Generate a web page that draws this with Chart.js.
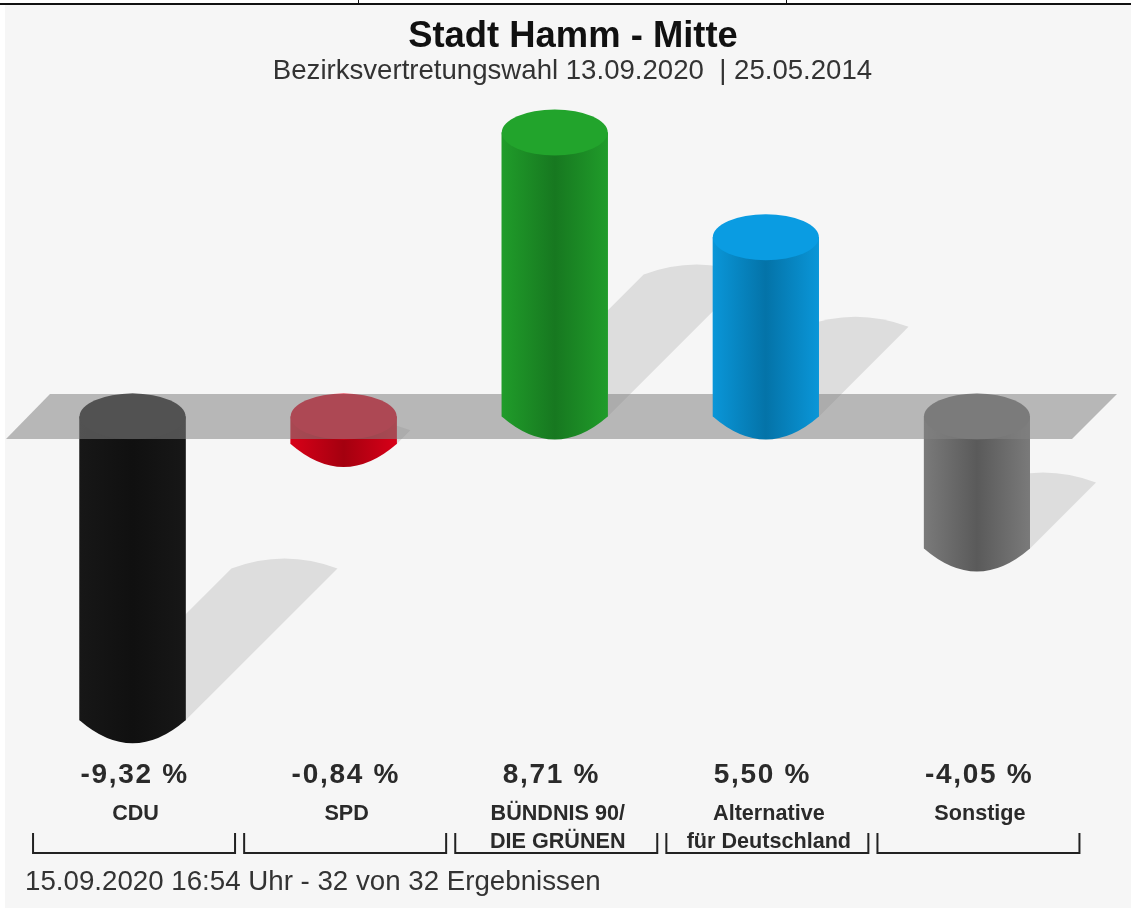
<!DOCTYPE html>
<html>
<head>
<meta charset="utf-8">
<title>Stadt Hamm - Mitte</title>
<script src="https://cdn.jsdelivr.net/npm/chart.js@4"></script>
<style>
    html, body { margin: 0; padding: 0; background: #fff; overflow: hidden; }
    #wrap { position: relative; width: 1131px; height: 908px; }
    /* the original is a scaled-up image, slightly soft all over */
    #myChart { display: block; filter: blur(0.6px); }
    .rule { position: absolute; background: #111; }
</style>
</head>
<body>
<div id="wrap">
    <canvas id="myChart" width="1131" height="908"></canvas>
    <div class="rule" style="left:0;top:3px;width:1131px;height:2px"></div>
    <div class="rule" style="left:358px;top:0;width:1px;height:4px"></div>
    <div class="rule" style="left:786px;top:0;width:1px;height:4px"></div>
</div>
<script>
/* Data */

const parties = ['CDU', 'SPD', ['BÜNDNIS 90/', 'DIE GRÜNEN'], ['Alternative', 'für Deutschland'], 'Sonstige'];
const changes = [-9.32, -0.84, 8.71, 5.50, -4.05];
const titleText = 'Stadt Hamm - Mitte';
const subtitleText = 'Bezirksvertretungswahl 13.09.2020  | 25.05.2014';
const footerText = '15.09.2020 16:54 Uhr - 32 von 32 Ergebnissen';

/* Colours: top, side edge, side middle */

const topColors = ['#171717', '#e0001c', '#22a42c', '#0a9ce2', '#727272'];
const edgeColors = ['#171717', '#d80018', '#209c2a', '#0a96d8', '#7a7a7a'];
const midColors = ['#101010', '#a4000f', '#177820', '#0473a8', '#5a5a5a'];

const FONT = '"Liberation Sans", Arial, sans-serif';
const ELLIPSE_RY = 23;

function cylinder(ctx, bar, i, zero) {
    const rx = bar.width / 2;
    const left = bar.x - rx;
    const right = bar.x + rx;
    const upper = Math.min(bar.y, zero);
    const lower = Math.max(bar.y, zero);

    const side = ctx.createLinearGradient(left, 0, right, 0);
    side.addColorStop(0, edgeColors[i]);
    side.addColorStop(0.5, midColors[i]);
    side.addColorStop(1, edgeColors[i]);

    ctx.fillStyle = side;
    ctx.beginPath();
    ctx.moveTo(left, upper);
    ctx.lineTo(right, upper);
    ctx.lineTo(right, lower);
    ctx.quadraticCurveTo(bar.x + rx * 0.5, lower + ELLIPSE_RY, bar.x, lower + ELLIPSE_RY);
    ctx.quadraticCurveTo(bar.x - rx * 0.5, lower + ELLIPSE_RY, left, lower);
    ctx.closePath();
    ctx.fill();

    ctx.fillStyle = topColors[i];
    ctx.beginPath();
    ctx.ellipse(bar.x, upper, rx, ELLIPSE_RY, 0, 0, Math.PI * 2);
    ctx.fill();
}

const cylinders = {
    id: 'cylinders',
    beforeDraw(chart) {
        const ctx = chart.ctx;
        ctx.save();
        ctx.fillStyle = '#f6f6f6';
        ctx.fillRect(5, 5, chart.width - 5, chart.height - 5);
        ctx.restore();
    },
    beforeDatasetsDraw(chart) {
        // shadows fall up and to the right, half as long as the bar
        const ctx = chart.ctx;
        const zero = chart.scales.y.getPixelForValue(0);
        ctx.save();
        ctx.fillStyle = '#dddddd';
        chart.getDatasetMeta(0).data.forEach((bar) => {
            const rx = bar.width / 2;
            const lower = Math.max(bar.y, zero);
            const s = Math.abs(bar.y - zero) / 2;
            ctx.beginPath();
            ctx.moveTo(bar.x - rx, lower);
            ctx.lineTo(bar.x - rx + s, lower - s);
            ctx.quadraticCurveTo(bar.x + s - rx * 0.5, lower - s - 10, bar.x + s, lower - s - 10);
            ctx.quadraticCurveTo(bar.x + s + rx * 0.5, lower - s - 10, bar.x + rx + s, lower - s);
            ctx.lineTo(bar.x + rx, lower);
            ctx.closePath();
            ctx.fill();
        });
        ctx.restore();
    },
    afterDatasetsDraw(chart) {
        const ctx = chart.ctx;
        const y = chart.scales.y;
        const zero = y.getPixelForValue(0);
        const bars = chart.getDatasetMeta(0).data;
        ctx.save();

        bars.forEach((bar, i) => { if (changes[i] < 0) cylinder(ctx, bar, i, zero); });

        // the grey floor at zero lies over the falling bars and under the rising ones
        ctx.fillStyle = 'rgba(132, 132, 132, 0.55)';
        ctx.beginPath();
        ctx.moveTo(50, zero - 22.5);
        ctx.lineTo(1117, zero - 22.5);
        ctx.lineTo(1072, zero + 22.5);
        ctx.lineTo(6, zero + 22.5);
        ctx.closePath();
        ctx.fill();

        bars.forEach((bar, i) => { if (changes[i] >= 0) cylinder(ctx, bar, i, zero); });

        ctx.restore();
    },
    afterDraw(chart) {
        const ctx = chart.ctx;
        const x = chart.scales.x;
        const bars = chart.getDatasetMeta(0).data;
        ctx.save();
        ctx.textBaseline = 'alphabetic';

        ctx.fillStyle = '#111';
        ctx.textAlign = 'center';
        ctx.font = 'bold 36.4px ' + FONT;
        ctx.fillText(titleText, 573, 47);
        ctx.fillStyle = '#333';
        ctx.font = '27.6px ' + FONT;
        ctx.fillText(subtitleText, 572.5, 79);

        ctx.textAlign = 'left';
        ctx.font = '27.7px ' + FONT;
        ctx.fillText(footerText, 25, 890);

        ctx.fillStyle = '#2a2a2a';
        ctx.font = 'bold 28px ' + FONT;
        ctx.letterSpacing = '1.7px';
        bars.forEach((bar, i) => {
            const label = changes[i].toFixed(2).replace('.', ',') + ' %';
            ctx.fillText(label, bar.x - bar.width / 2 + 1, 783);
        });
        ctx.letterSpacing = '0px';

        // bracket under each party
        ctx.strokeStyle = '#222';
        ctx.lineWidth = 2;
        parties.forEach((p, i) => {
            const c = x.getPixelForTick(i) + 1.5;
            ctx.beginPath();
            ctx.moveTo(c - 101, 833);
            ctx.lineTo(c - 101, 853);
            ctx.lineTo(c + 101, 853);
            ctx.lineTo(c + 101, 833);
            ctx.stroke();
        });
        ctx.restore();
    }
};

/* Chart */

const ctx = document.getElementById('myChart');
new Chart(ctx, {
    type: 'bar',
    data: {
        labels: parties,
        datasets: [{
            data: changes,
            backgroundColor: edgeColors,
            barPercentage: 0.5024,
            categoryPercentage: 1
        }]
    },
    options: {
        responsive: false,
        animation: false,
        events: [],
        layout: {
            padding: {left: 27, right: 48.5, top: 90.5, bottom: 45.5}
        },
        scales: {
            y: {
                display: false,
                min: -10,
                max: 10
            },
            x: {
                afterFit: (scale) => { scale.height = 120 },
                grid: {display: false, drawTicks: false},
                border: {display: false},
                ticks: {
                    autoSkip: false,
                    maxRotation: 0,
                    padding: 58,
                    labelOffset: 3,
                    color: '#2a2a2a',
                    font: {family: FONT, size: 21.6, weight: 'bold', lineHeight: 1.27}
                }
            }
        },
        plugins: {
            legend: {display: false},
            tooltip: {enabled: false}
        }
    },
    plugins: [cylinders]
});
</script>
</body>
</html>
